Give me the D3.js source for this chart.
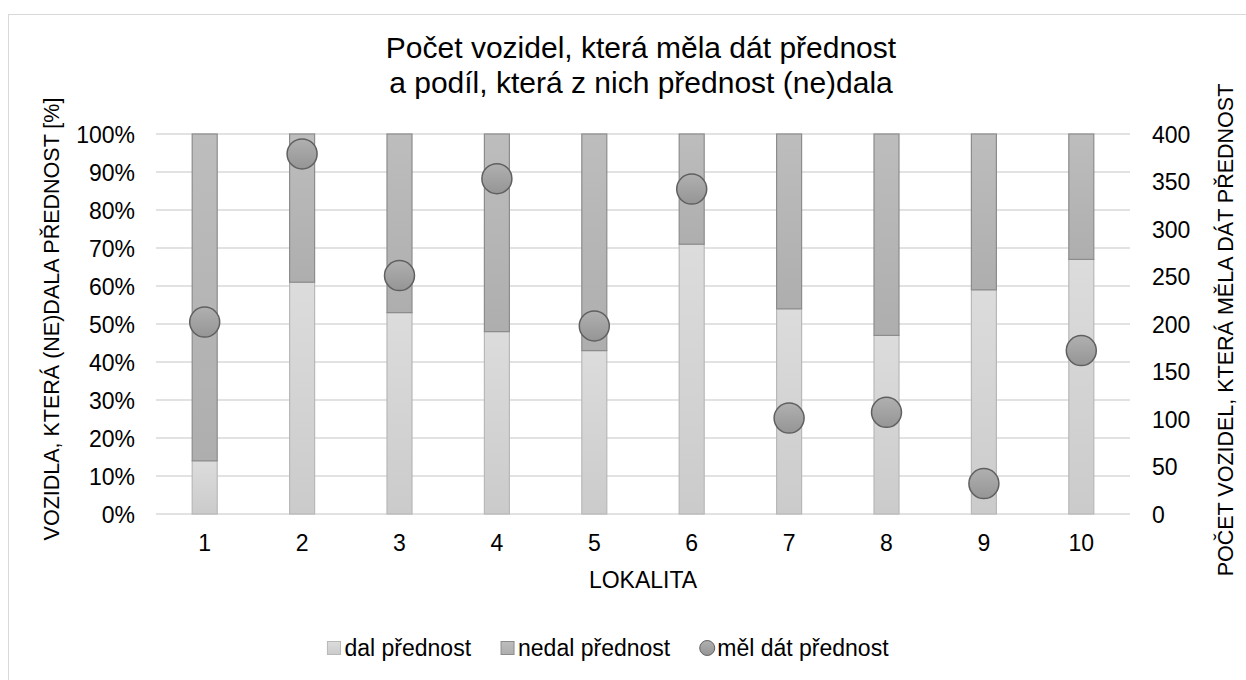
<!DOCTYPE html>
<html>
<head>
<meta charset="utf-8">
<script src="https://cdn.jsdelivr.net/npm/d3@7"></script>
<style>
  body { margin: 0; background: #fff; }
  text { font-family: "Liberation Sans", Arial, sans-serif; fill: #000; }
</style>
</head>
<body>
<div id="chart"></div>
<script>
const lokality = ["1", "2", "3", "4", "5", "6", "7", "8", "9", "10"];
const dalPct = [14, 61, 53, 48, 43, 71, 54, 47, 59, 67];
const pocet = [202, 379, 251, 353, 198, 342, 101, 107, 32, 172];
const leftTicks = [0, 10, 20, 30, 40, 50, 60, 70, 80, 90, 100];
const rightTicks = [0, 50, 100, 150, 200, 250, 300, 350, 400];

const width = 1246, height = 680;
const margin = { top: 134, right: 116, bottom: 166, left: 156 };

const svg = d3.select("#chart").append("svg")
    .attr("width", width)
    .attr("height", height);

// gradients
const defs = svg.append("defs");
function grad(id, c1, c2) {
    const g = defs.append("linearGradient").attr("id", id)
        .attr("x1", 0).attr("y1", 0).attr("x2", 0).attr("y2", 1);
    g.append("stop").attr("offset", "0%").attr("stop-color", c1);
    g.append("stop").attr("offset", "100%").attr("stop-color", c2);
}
grad("gLight", "#dcdcdc", "#cbcbcb");
grad("gDark", "#bdbdbd", "#aeaeae");
grad("gDot", "#b0b0b0", "#959595");

// chart border
svg.append("rect")
    .attr("x", 8.5).attr("y", 14.5)
    .attr("width", 1260).attr("height", 700)
    .attr("fill", "none")
    .attr("stroke", "#d9d9d9");

const x = d3.scaleBand()
    .domain(lokality)
    .range([margin.left, width - margin.right]);

const yL = d3.scaleLinear()
    .domain([0, 100])
    .range([height - margin.bottom, margin.top]);

const yR = d3.scaleLinear()
    .domain([0, 400])
    .range([height - margin.bottom, margin.top]);

// gridlines
svg.append("g")
    .selectAll("line")
    .data(leftTicks)
    .enter().append("line")
    .attr("x1", margin.left).attr("x2", width - margin.right)
    .attr("y1", d => yL(d)).attr("y2", d => yL(d))
    .attr("stroke", "#d9d9d9")
    .attr("stroke-width", 1.5);

// left axis
const axL = svg.append("g")
    .attr("transform", `translate(${margin.left - 21},0)`)
    .call(d3.axisLeft(yL).tickValues(leftTicks).tickSize(0).tickFormat(d => d + "%"));
axL.select(".domain").remove();
axL.selectAll("text").style("font-size", "23px").attr("x", 0).attr("dy", "0.35em");

// right axis
const axR = svg.append("g")
    .attr("transform", `translate(${width - margin.right + 22},0)`)
    .call(d3.axisRight(yR).tickValues(rightTicks).tickSize(0));
axR.select(".domain").remove();
axR.selectAll("text").style("font-size", "23px").attr("x", 0).attr("dy", "0.35em");

// x axis
const axX = svg.append("g")
    .attr("transform", `translate(0,${height - margin.bottom})`)
    .call(d3.axisBottom(x).tickSize(0));
axX.select(".domain").remove();
axX.selectAll("text").style("font-size", "23px").attr("y", 29).attr("dy", "0.35em");

// bars
const barW = 25;
const bars = svg.append("g");
bars.selectAll(".dal")
    .data(lokality)
    .enter().append("rect")
    .attr("class", "dal")
    .attr("x", d => x(d) + x.bandwidth() / 2 - barW / 2)
    .attr("width", barW)
    .attr("y", (d, i) => yL(dalPct[i]))
    .attr("height", (d, i) => yL(0) - yL(dalPct[i]))
    .attr("fill", "url(#gLight)")
    .attr("stroke", "#b8b8b8")
    .attr("stroke-width", 1.2);

bars.selectAll(".nedal")
    .data(lokality)
    .enter().append("rect")
    .attr("class", "nedal")
    .attr("x", d => x(d) + x.bandwidth() / 2 - barW / 2)
    .attr("width", barW)
    .attr("y", yL(100))
    .attr("height", (d, i) => yL(dalPct[i]) - yL(100))
    .attr("fill", "url(#gDark)")
    .attr("stroke", "#8c8c8c")
    .attr("stroke-width", 1.2);

// dots
svg.append("g").selectAll("circle")
    .data(lokality)
    .enter().append("circle")
    .attr("cx", d => x(d) + x.bandwidth() / 2)
    .attr("cy", (d, i) => yR(pocet[i]))
    .attr("r", 15)
    .attr("fill", "url(#gDot)")
    .attr("stroke", "#606060")
    .attr("stroke-width", 1.5);

// title
const title = svg.append("text")
    .attr("text-anchor", "middle")
    .style("font-size", "30px");
title.append("tspan").attr("x", 641).attr("y", 58).text("Počet vozidel, která měla dát přednost");
title.append("tspan").attr("x", 641).attr("y", 93).text("a podíl, která z nich přednost (ne)dala");

// axis titles
svg.append("text")
    .attr("transform", "translate(51,319) rotate(-90)")
    .attr("text-anchor", "middle")
    .attr("dy", "0.35em")
    .style("font-size", "21.5px")
    .text("VOZIDLA, KTERÁ (NE)DALA PŘEDNOST [%]");

svg.append("text")
    .attr("transform", "translate(1225,330) rotate(-90)")
    .attr("text-anchor", "middle")
    .attr("dy", "0.35em")
    .style("font-size", "21.5px")
    .text("POČET VOZIDEL, KTERÁ MĚLA DÁT PŘEDNOST");

svg.append("text")
    .attr("x", (margin.left + width - margin.right) / 2)
    .attr("y", 580)
    .attr("dy", "0.35em")
    .attr("text-anchor", "middle")
    .style("font-size", "23px")
    .text("LOKALITA");

// legend
const legend = svg.append("g").attr("transform", "translate(0,648)");
const items = [
    { label: "dal přednost", type: "rect", fill: "url(#gLight)", stroke: "#b8b8b8" },
    { label: "nedal přednost", type: "rect", fill: "url(#gDark)", stroke: "#8c8c8c" },
    { label: "měl dát přednost", type: "circle", fill: "url(#gDot)", stroke: "#606060" }
];
const gap = 30, markW = 17;
const itemGs = items.map(it => {
    const g = legend.append("g");
    if (it.type === "rect") {
        g.append("rect")
            .attr("x", 0).attr("y", -6.5)
            .attr("width", 13).attr("height", 13)
            .attr("fill", it.fill).attr("stroke", it.stroke);
    } else {
        g.append("circle")
            .attr("cx", 7).attr("cy", 0).attr("r", 7.5)
            .attr("fill", it.fill).attr("stroke", it.stroke);
    }
    const t = g.append("text")
        .attr("x", markW).attr("y", 0)
        .attr("dy", "0.35em")
        .style("font-size", "23px")
        .text(it.label);
    return { g, w: markW + t.node().getComputedTextLength() };
});
const total = d3.sum(itemGs, d => d.w) + gap * (itemGs.length - 1);
let lx = 608 - total / 2;
itemGs.forEach(d => {
    d.g.attr("transform", `translate(${lx},0)`);
    lx += d.w + gap;
});
</script>
</body>
</html>
